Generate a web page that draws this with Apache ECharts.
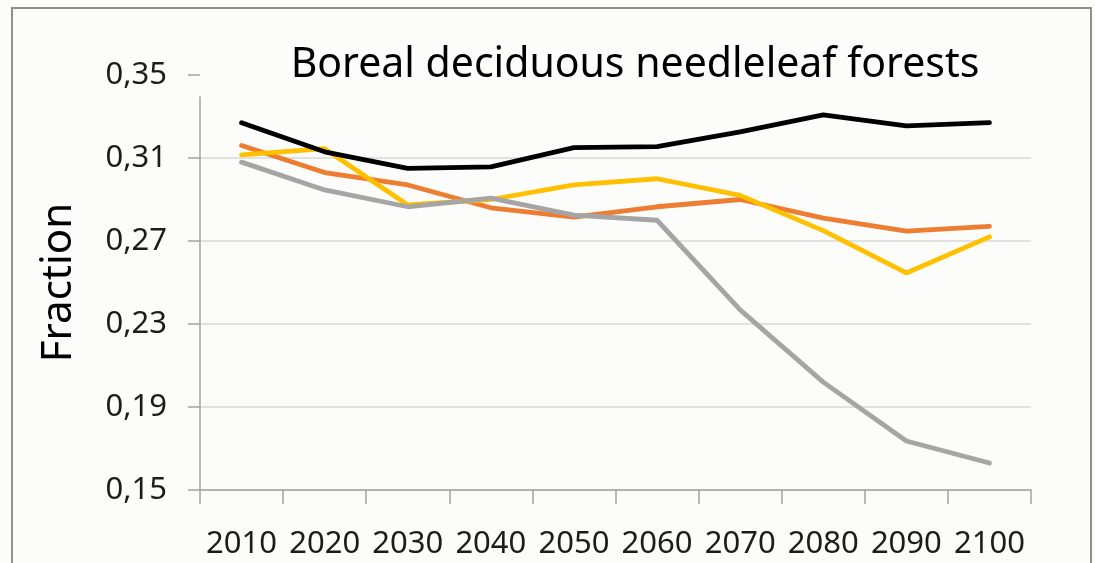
<!DOCTYPE html>
<html>
<head>
<meta charset="utf-8">
<style>
  html, body { margin: 0; padding: 0; background: #fcfcfa; }
  #chart { width: 1095px; height: 563px; }
</style>
<script src="https://cdn.jsdelivr.net/npm/echarts@6/dist/echarts.min.js"></script>
</head>
<body>
<div id="chart"></div>
<script>
// Decades on the horizontal axis
const years = ['2010', '2020', '2030', '2040', '2050', '2060', '2070', '2080', '2090', '2100'];

// Fraction of boreal deciduous needleleaf forests per scenario
const seriesBlack  = [0.327, 0.313, 0.305, 0.3057, 0.315, 0.3155, 0.3226, 0.3308, 0.3255, 0.327];
const seriesOrange = [0.316, 0.303, 0.297, 0.286, 0.2815, 0.2865, 0.290, 0.281, 0.2748, 0.277];
const seriesYellow = [0.3115, 0.3145, 0.2874, 0.290, 0.297, 0.300, 0.292, 0.275, 0.2546, 0.272];
const seriesGray   = [0.308, 0.2946, 0.2865, 0.2907, 0.2825, 0.280, 0.2368, 0.202, 0.1736, 0.163];

// Value axis range and step
const yMin = 0.15;
const yMax = 0.35;
const yStep = 0.04;

const titleText = 'Boreal deciduous needleleaf forests';
const yName = 'Fraction';

const FONT = "'Noto Sans', sans-serif";
const AXIS_GREY = '#a3a3a3';
const TEXT = '#1c1c1c';

const chart = echarts.init(document.getElementById('chart'), null, { renderer: 'canvas' });

function line(name, data, color) {
  return {
    name: name,
    type: 'line',
    data: data,
    xAxisIndex: 0,
    yAxisIndex: 0,
    symbol: 'none',
    smooth: false,
    lineStyle: { color: color, width: 4.8, cap: 'round', join: 'round' },
    itemStyle: { color: color },
    animation: false
  };
}

chart.setOption({
  backgroundColor: '#fcfcfa',
  animation: false,
  title: {
    text: titleText,
    left: 630,
    top: 40,
    textAlign: 'center',
    textStyle: { fontFamily: FONT, fontSize: 41, fontWeight: 'normal', color: '#000' }
  },
  graphic: [{
    type: 'rect',
    silent: true,
    shape: { x: 12, y: 8, width: 1079, height: 600 },
    style: { fill: 'none', stroke: '#8f8f8f', lineWidth: 2 }
  }],
  grid: [
    { left: 200, right: 64, top: 75, bottom: 73 },
    { left: 200, right: 64, top: 97, bottom: 73 }
  ],
  xAxis: [{
    type: 'category',
    gridIndex: 0,
    data: years,
    boundaryGap: true,
    axisLine: { show: true, lineStyle: { color: AXIS_GREY, width: 1.5 } },
    axisTick: { show: true, interval: 0, length: 14, lineStyle: { color: AXIS_GREY, width: 1.5 } },
    axisLabel: { interval: 0, color: TEXT, fontFamily: FONT, fontSize: 31, margin: 39 },
    splitLine: { show: false }
  }, {
    type: 'category',
    gridIndex: 1,
    data: years,
    show: false
  }],
  yAxis: [{
    type: 'value',
    gridIndex: 0,
    min: yMin,
    max: yMax,
    interval: yStep,
    name: yName,
    nameLocation: 'middle',
    nameRotate: 90,
    nameGap: 120,
    nameTextStyle: { color: '#000', fontFamily: FONT, fontSize: 42 },
    axisLine: { show: false },
    axisTick: { show: true, length: 12, lineStyle: { color: AXIS_GREY, width: 1.5 } },
    axisLabel: {
      color: TEXT, fontFamily: FONT, fontSize: 31, margin: 33,
      formatter: v => v.toFixed(2).replace('.', ',')
    },
    splitLine: {
      show: true,
      lineStyle: {
        color: ['#d9d9d9', '#d9d9d9', '#d9d9d9', '#d9d9d9', '#d9d9d9', 'rgba(0,0,0,0)'],
        width: 1.5
      }
    }
  }, {
    type: 'value',
    gridIndex: 1,
    axisLine: { show: true, lineStyle: { color: AXIS_GREY, width: 1.5 } },
    axisTick: { show: false },
    axisLabel: { show: false },
    splitLine: { show: false }
  }],
  series: [
    line('Orange', seriesOrange, '#ed7d31'),
    line('Yellow', seriesYellow, '#ffc000'),
    line('Gray', seriesGray, '#a5a5a5'),
    line('Black', seriesBlack, '#000000')
  ]
});
</script>
</body>
</html>
